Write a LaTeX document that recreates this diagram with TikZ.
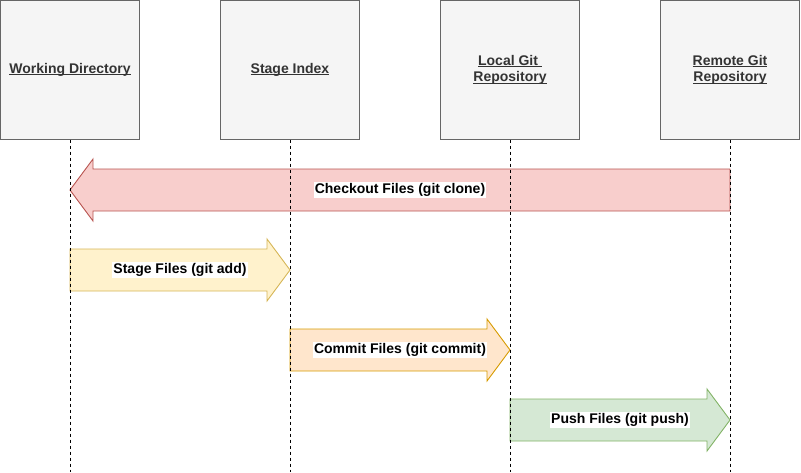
\documentclass[tikz,border=0pt]{standalone}
\usepackage{fontspec}
\setmainfont{Liberation Sans}
\usetikzlibrary{positioning,calc}
\definecolor{boxfill}{HTML}{F5F5F5}
\definecolor{boxline}{HTML}{666666}
\definecolor{boxtext}{HTML}{333333}
\definecolor{redfill}{HTML}{F8CECC}
\definecolor{redline}{HTML}{B85450}
\definecolor{yelfill}{HTML}{FFF2CC}
\definecolor{yelline}{HTML}{D6B656}
\definecolor{orgfill}{HTML}{FFE6CC}
\definecolor{orgline}{HTML}{D79B00}
\definecolor{grnfill}{HTML}{D5E8D4}
\definecolor{grnline}{HTML}{82B366}
% underline that sits just below the baseline
\newcommand{\ulname}[1]{\setbox0\hbox{#1}\rlap{\rule[-1.8pt]{\wd0}{0.9pt}}\box0}

\tikzset{
  actor/.style={draw=boxline, fill=boxfill, line width=0.9pt, minimum size=139pt,
    inner sep=0pt, outer sep=0pt, align=center, text=boxtext,
    font=\fontsize{14}{16.5}\selectfont\bfseries},
  lifeline/.style={line width=0.9pt, dash pattern=on 3pt off 3pt},
  blockarr/.style={line width=0.9pt, line join=miter},
  redarr/.style={blockarr, draw=redline, fill=redfill},
  yelarr/.style={blockarr, draw=yelline, fill=yelfill},
  orgarr/.style={blockarr, draw=orgline, fill=orgfill},
  grnarr/.style={blockarr, draw=grnline, fill=grnfill},
  lbl/.style={fill=white, inner sep=1pt, font=\fontsize{14}{16}\selectfont\bfseries}
}

\begin{document}
\begin{tikzpicture}[x=1pt, y=-1pt]
  \useasboundingbox (0,0) rectangle (801,472);

  % the four places where files live
  \node[actor] (wd) at (70,70) {\ulname{Working Directory}};
  \node[actor, right=81pt of wd] (si) {\ulname{Stage Index}};
  \node[actor, right=81pt of si] (lr) {\ulname{Local Git\ }\\\ulname{Repository}};
  \node[actor, right=81pt of lr] (rr) {\ulname{Remote Git}\\\ulname{Repository}};

  % block arrows: shaft half height 21, head half height 31, head length 23
  \foreach \src/\dst/\yy/\kind/\txt in {rr/wd/190/redarr/{Checkout Files (git clone)},
      wd/si/270/yelarr/{Stage Files (git add)},
      si/lr/350/orgarr/{Commit Files (git commit)},
      lr/rr/420/grnarr/{Push Files (git push)}}{
    \draw[\kind] let \p1=(\src), \p2=(\dst), \n1={sign(\x2-\x1)} in
      ({\x1},{(21-\yy)*1pt}) -- ({\x2-23pt*\n1},{(21-\yy)*1pt})
      -- ({\x2-23pt*\n1},{(31-\yy)*1pt}) -- ({\x2},{-\yy*1pt})
      -- ({\x2-23pt*\n1},{(-31-\yy)*1pt}) -- ({\x2-23pt*\n1},{(-21-\yy)*1pt})
      -- ({\x1},{(-21-\yy)*1pt}) -- cycle;
    \path let \p1=(\src), \p2=(\dst) in
      node[lbl] (\kind-lbl) at ({(\x1+\x2)/2},{-\yy*1pt}) {\txt};
  }

  % lifelines on top
  \foreach \n in {wd,si,lr,rr}{
    \coordinate (\n-end) at (\n.south |- 0,472);
    \draw[lifeline] (\n.south) -- (\n-end);
  }
\end{tikzpicture}
\end{document}
